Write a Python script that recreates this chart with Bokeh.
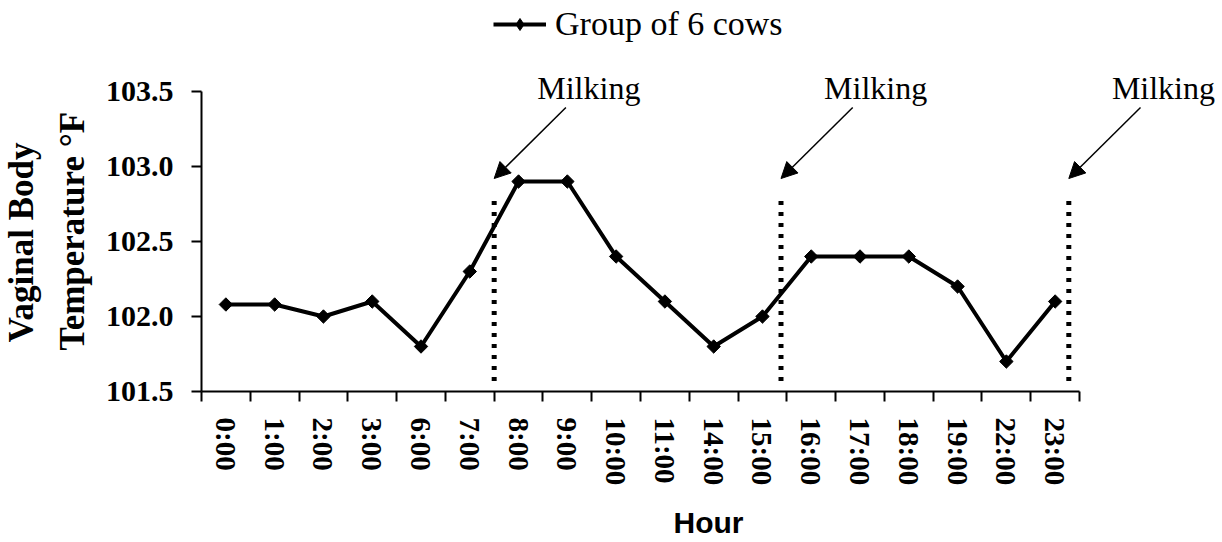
from bokeh.plotting import figure
from bokeh.models import (Range1d, FixedTicker, Arrow, NormalHead, Legend, LegendItem,
                          ColumnDataSource, LabelSet, NumeralTickFormatter, Title)
from bokeh.embed import file_html
from bokeh.resources import INLINE
import numpy as np

# ---- data ----
hours = ["0:00", "1:00", "2:00", "3:00", "6:00", "7:00", "8:00", "9:00", "10:00",
         "11:00", "14:00", "15:00", "16:00", "17:00", "18:00", "19:00", "22:00", "23:00"]
temps = [102.08, 102.08, 102.0, 102.1, 101.8, 102.3, 102.9, 102.9, 102.4,
         102.1, 101.8, 102.0, 102.4, 102.4, 102.4, 102.2, 101.7, 102.1]
y_ticks = [101.5, 102.0, 102.5, 103.0, 103.5]
milking_pos = [6.0, 11.88, 17.78]          # category-index position of each milking
milking_label = "Milking"
series_name = "Group of 6 cows"
y_title_lines = ["Vaginal Body", "Temperature \u00b0F"]

n = len(hours)
xs = [i + 0.5 for i in range(n)]

# ---- layout ----
FL = 201            # frame left (px)
FW, FH = 1014, 391  # frame size (px)
cat_px = 48.78
y_px = 150.0
x_end = FW / cat_px
y_end = y_ticks[0] + FH / y_px

SERIF = "Liberation Serif"

p = figure(frame_width=FW, frame_height=FH, output_backend="svg", toolbar_location=None,
           x_range=Range1d(0, x_end), y_range=Range1d(y_ticks[0], y_end),
           min_border_left=FL, min_border_bottom=0, min_border_top=0, min_border_right=0)
p.outline_line_color = None
p.xgrid.visible = False
p.ygrid.visible = False
p.background_fill_color = "white"
p.border_fill_color = "white"

# series
r_line = p.line(xs, temps, line_width=4, color="black")
r_pts = p.scatter(xs, temps, marker="square", angle=np.pi / 4, size=9.5, color="black")
r_leg = p.scatter(x=[np.nan], y=[np.nan], marker="diamond", size=12, color="black")

# milking dotted lines
dot_top, dot_bot = 102.79, 101.57
p.segment(x0=milking_pos, y0=[dot_bot] * 3, x1=milking_pos, y1=[dot_top] * 3,
          line_dash="4 7", line_width=5, color="black")

# arrows + labels
arr_src = ColumnDataSource(dict(
    xs=[m + 1.47 for m in milking_pos], ys=[103.393] * 3,
    xe=[m + 0.0 for m in milking_pos], ye=[102.92] * 3,
    lx=[m + 1.94 for m in milking_pos], ly=[103.453] * 3,
    txt=[milking_label] * 3))
p.add_layout(Arrow(end=NormalHead(size=16, fill_color="black", line_color="black"),
                   x_start="xs", y_start="ys", x_end="xe", y_end="ye",
                   line_width=1.5, line_color="black", source=arr_src))
p.add_layout(LabelSet(x="lx", y="ly", text="txt", source=arr_src, text_align="center",
                      text_baseline="alphabetic", text_font=SERIF, text_font_size="32px",
                      text_color="black"))

# x axis
xa = p.xaxis[0]
xa.ticker = FixedTicker(ticks=xs, minor_ticks=list(range(n + 1)))
xa.major_label_overrides = {x: h for x, h in zip(xs, hours)}
xa.bounds = (0, n)
xa.major_tick_line_color = None
xa.major_tick_out = 10
xa.major_tick_in = 0
xa.minor_tick_out = 10
xa.minor_tick_in = 0
xa.minor_tick_line_width = 2
xa.minor_tick_line_color = "black"
xa.axis_line_width = 2
xa.axis_line_color = "black"
xa.major_label_orientation = -np.pi / 2
xa.major_label_text_font = SERIF
xa.major_label_text_font_style = "bold"
xa.major_label_text_font_size = "29px"
xa.major_label_text_color = "black"
xa.major_label_standoff = 16
xa.axis_label = "Hour"
xa.axis_label_text_font = "Liberation Sans"
xa.axis_label_text_font_style = "bold"
xa.axis_label_text_font_size = "30px"
xa.axis_label_text_color = "black"
xa.axis_label_standoff = 18

# y axis
ya = p.yaxis[0]
ya.ticker = FixedTicker(ticks=y_ticks)
ya.formatter = NumeralTickFormatter(format="0.0")
ya.bounds = (y_ticks[0], y_ticks[-1])
ya.major_tick_out = 10
ya.major_tick_in = 0
ya.major_tick_line_width = 2
ya.major_tick_line_color = "black"
ya.minor_tick_line_color = None
ya.axis_line_width = 2
ya.axis_line_color = "black"
ya.major_label_text_font = SERIF
ya.major_label_text_font_style = "bold"
ya.major_label_text_font_size = "30px"
ya.major_label_text_color = "black"
ya.major_label_standoff = 18

# y axis title (two lines, centred on the axis extent)
for line, so, off in [(y_title_lines[1], 22, 41), (y_title_lines[0], -2, 49)]:
    p.add_layout(Title(text=line, align="left", offset=off, standoff=so,
                       text_font=SERIF, text_font_style="bold", text_font_size="35px",
                       text_color="black"), "left")

# legend
legend = Legend(items=[LegendItem(label=series_name, renderers=[r_line, r_leg])],
                location=(292, 348), orientation="horizontal",
                glyph_width=53, glyph_height=30, label_standoff=9,
                padding=0, margin=0, border_line_color=None, background_fill_alpha=0,
                label_text_font=SERIF, label_text_font_size="34px", label_text_color="black")
p.add_layout(legend)

open("out.html", "w").write(file_html(p, INLINE))
